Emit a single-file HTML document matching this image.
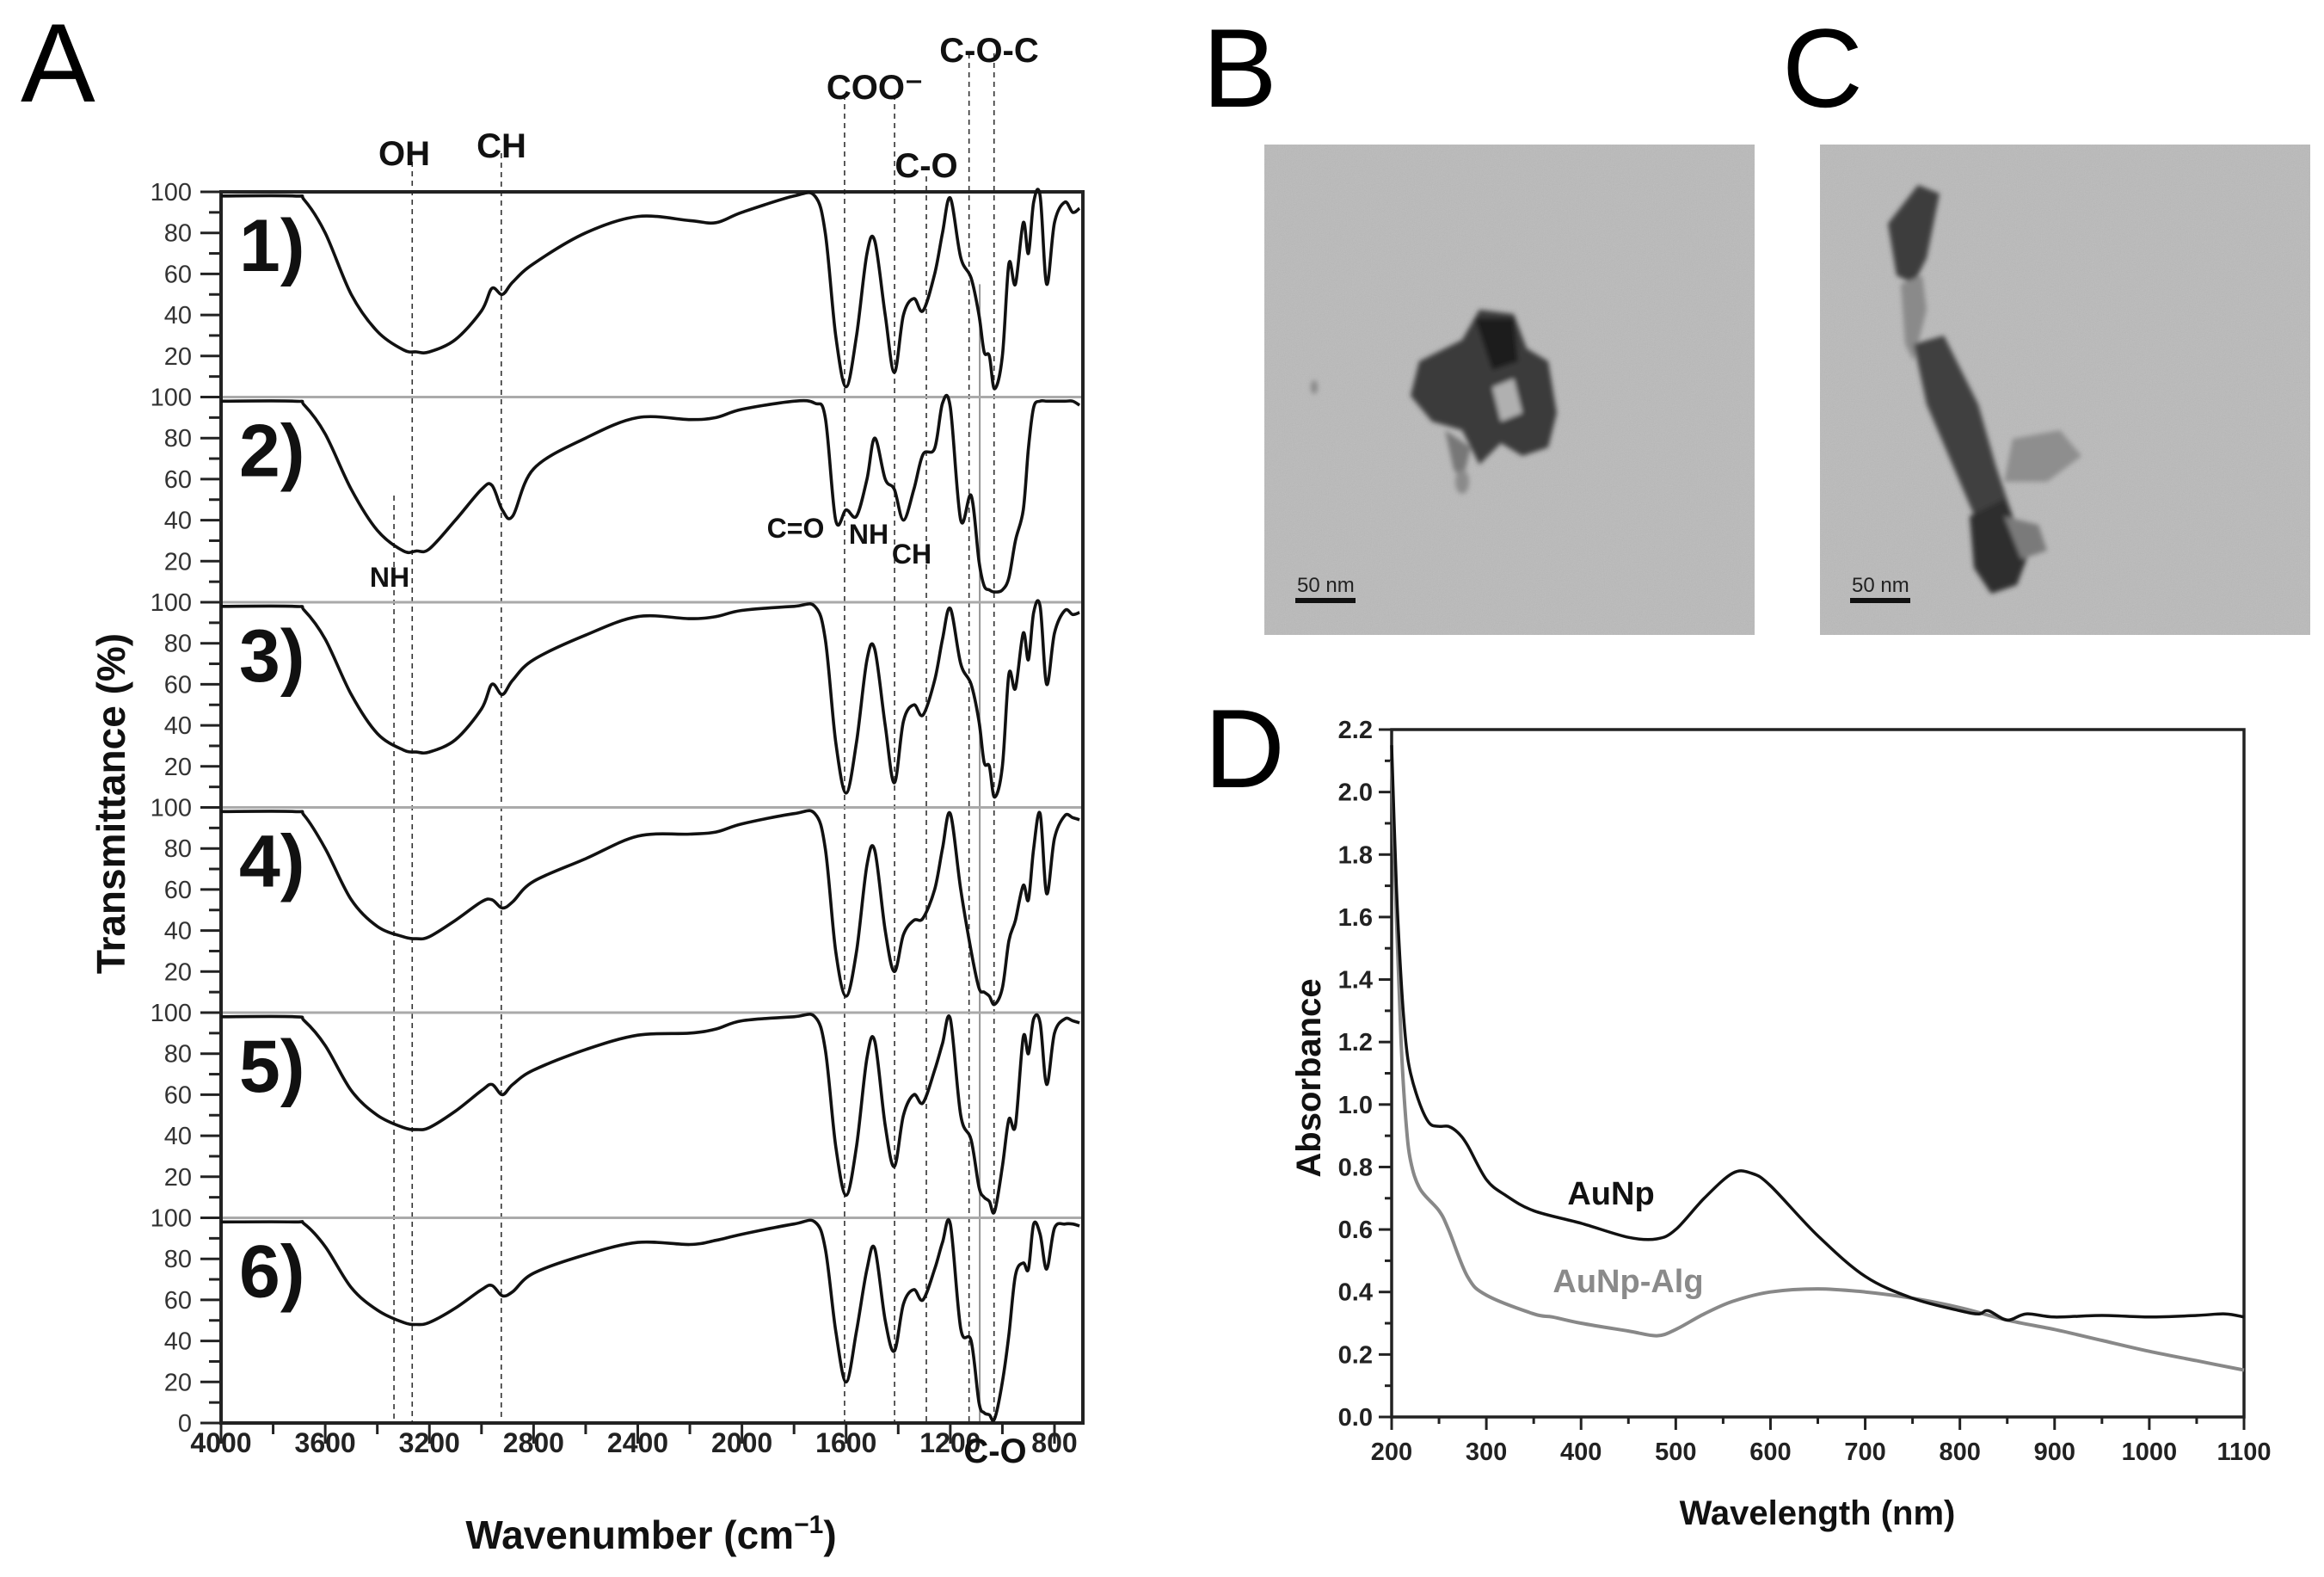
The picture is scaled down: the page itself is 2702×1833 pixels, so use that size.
<!DOCTYPE html>
<html><head><meta charset="utf-8">
<style>
html,body{margin:0;padding:0;background:#fff;}
svg{display:block;}
text{font-family:"Liberation Sans",sans-serif;}
</style></head>
<body>
<svg id="fig" width="2702" height="1833" viewBox="0 0 2702 1833" xmlns="http://www.w3.org/2000/svg">
  <defs>
    <filter id="grain" x="0" y="0" width="100%" height="100%">
      <feTurbulence type="fractalNoise" baseFrequency="0.9" numOctaves="2" seed="3" result="n"/>
      <feColorMatrix type="saturate" values="0"/>
      <feComponentTransfer><feFuncA type="linear" slope="0.18"/></feComponentTransfer>
      <feComposite in2="SourceGraphic" operator="in"/>
    </filter>
    <filter id="blur3"><feGaussianBlur stdDeviation="3"/></filter>
  </defs>

  <!-- Panel letters -->
  <text x="24" y="118" font-size="130">A</text>
  <text x="1398" y="124" font-size="130">B</text>
  <text x="2072" y="124" font-size="130">C</text>
  <text x="1400" y="915" font-size="130">D</text>

  <!-- TEM image B -->
  <g>
    <rect x="1470" y="168" width="570" height="570" fill="#bababa"/>
    <rect x="1470" y="168" width="570" height="570" fill="#888" filter="url(#grain)"/>
    <g filter="url(#blur3)">
      <path d="M1650 420 L1700 395 L1720 360 L1760 365 L1775 405 L1800 420 L1810 480 L1800 520 L1770 530 L1745 515 L1720 540 L1700 500 L1665 490 L1640 460 Z" fill="#3a3a3a"/>
      <path d="M1715 370 L1760 370 L1765 420 L1735 430 Z" fill="#1e1e1e"/>
      <path d="M1735 450 L1760 440 L1770 480 L1745 490 Z" fill="#b0b0b0"/>
      <path d="M1680 500 L1710 520 L1700 560 L1690 545 Z" fill="#777"/>
      <ellipse cx="1700" cy="560" rx="8" ry="14" fill="#8a8a8a"/>
      <ellipse cx="1528" cy="450" rx="4" ry="8" fill="#888"/>
    </g>
    <text x="1508" y="688" font-family="Liberation Mono, monospace" font-size="24" fill="#222">50 nm</text>
    <rect x="1506" y="695" width="70" height="6" fill="#111"/>
  </g>

  <!-- TEM image C -->
  <g>
    <rect x="2116" y="168" width="570" height="570" fill="#bababa"/>
    <rect x="2116" y="168" width="570" height="570" fill="#888" filter="url(#grain)"/>
    <g filter="url(#blur3)">
      <path d="M2195 260 L2230 215 L2255 225 L2240 300 L2225 330 L2205 320 Z" fill="#3c3c3c"/>
      <path d="M2210 330 L2235 320 L2240 360 L2225 420 L2215 400 Z" fill="#8a8a8a"/>
      <path d="M2225 400 L2260 390 L2300 470 L2320 540 L2340 600 L2330 640 L2300 610 L2270 540 L2240 470 Z" fill="#404040"/>
      <path d="M2340 510 L2395 500 L2420 530 L2380 560 L2330 560 Z" fill="#8e8e8e"/>
      <path d="M2290 600 L2330 580 L2360 640 L2345 680 L2315 690 L2295 660 Z" fill="#2e2e2e"/>
      <path d="M2330 600 L2370 610 L2380 640 L2350 650 Z" fill="#7a7a7a"/>
    </g>
    <text x="2153" y="688" font-family="Liberation Mono, monospace" font-size="24" fill="#222">50 nm</text>
    <rect x="2151" y="695" width="70" height="6" fill="#111"/>
  </g>

  <g id="ftir"></g>
  <g id="uv"></g>
</svg>

<script>
// ---------------- FTIR data (panel A) ----------------
const ftirWavenumbers = [4000,3720,3680,3600,3500,3400,3300,3250,3200,3100,3000,2960,2920,2880,2800,2600,2400,2200,2100,2000,1800,1720,1680,1640,1600,1560,1520,1490,1450,1415,1380,1340,1305,1260,1230,1200,1160,1120,1090,1070,1050,1030,1000,975,950,920,900,880,855,830,800,760,730,704];
const ftirSample1 = [98,98,96,80,50,32,23,22,22,28,42,53,50,56,65,80,88,86,85,90,98,98,80,30,5,30,70,76,40,12,40,48,42,60,80,97,68,58,40,22,20,4,20,65,55,85,70,95,98,55,85,95,90,92];
const ftirSample2 = [98,98,96,82,55,35,25,25,26,40,55,57,45,42,65,80,90,89,90,94,98,97,90,40,45,42,60,80,60,55,40,55,72,75,97,95,40,52,20,8,6,5,6,12,30,45,75,95,98,98,98,98,98,96];
const ftirSample3 = [98,98,96,82,55,36,28,27,27,33,48,60,55,62,72,84,93,92,93,96,98,98,82,32,7,32,72,77,40,12,42,50,45,62,82,97,70,60,42,22,20,5,20,65,58,85,72,95,98,60,85,96,94,95];
const ftirSample4 = [98,98,96,80,55,42,37,36,37,45,54,55,51,54,64,75,86,87,88,92,97,97,80,30,8,30,72,79,40,20,38,45,46,60,80,97,60,30,12,10,8,4,12,35,45,62,55,80,97,58,85,96,95,94];
const ftirSample5 = [98,98,96,84,62,50,44,43,44,52,62,65,60,65,72,82,89,90,92,96,98,98,82,35,11,35,78,86,45,25,50,60,56,72,85,97,50,38,15,10,8,3,25,48,45,88,80,97,95,65,90,97,96,95];
const ftirSample6 = [98,98,97,86,66,55,49,48,49,56,65,67,62,64,73,82,88,87,89,92,97,98,85,45,20,45,75,85,50,35,58,65,60,75,88,97,46,40,10,5,4,2,20,43,72,78,75,97,92,75,95,97,97,96];
const ftirPanelLabels = ["1)","2)","3)","4)","5)","6)"];
const ftirXTicks = [4000,3600,3200,2800,2400,2000,1600,1200,800];
const ftirYTicks = [0,20,40,60,80,100];
const ftirBandLines = [3336,3266,2924,1606,1414,1292,1128,1032];

// ---------------- UV-Vis data (panel D) ----------------
const uvAuNpWavelength = [200,205,210,215,220,230,240,250,260,270,280,300,320,350,400,450,480,500,530,560,580,600,650,700,750,800,820,830,850,870,900,950,1000,1050,1080,1100];
const uvAuNpAbsorbance = [2.15,1.7,1.4,1.2,1.1,1.0,0.94,0.93,0.93,0.91,0.87,0.76,0.71,0.66,0.62,0.575,0.57,0.6,0.7,0.78,0.78,0.74,0.58,0.45,0.38,0.34,0.33,0.34,0.31,0.33,0.32,0.325,0.32,0.325,0.33,0.32];
const uvAlgWavelength = [200,205,210,215,220,230,250,260,280,300,350,370,400,450,480,500,530,560,600,650,700,750,800,850,900,950,1000,1050,1100];
const uvAlgAbsorbance = [2.1,1.6,1.2,0.95,0.82,0.73,0.66,0.6,0.45,0.39,0.33,0.32,0.3,0.275,0.26,0.28,0.33,0.37,0.4,0.41,0.4,0.38,0.35,0.31,0.28,0.245,0.21,0.18,0.15];
const uvXTicks = [200,300,400,500,600,700,800,900,1000,1100];
const uvYTicks = [0.0,0.2,0.4,0.6,0.8,1.0,1.2,1.4,1.6,1.8,2.0,2.2];

const NS = "http://www.w3.org/2000/svg";
function mk(tag, attrs, parent){const e=document.createElementNS(NS,tag);for(const k in attrs)e.setAttribute(k,attrs[k]);parent.appendChild(e);return e;}
function smoothPath(pts){
  let d="M"+pts[0][0].toFixed(1)+" "+pts[0][1].toFixed(1);
  for(let i=0;i<pts.length-1;i++){
    const p0=pts[i-1]||pts[i],p1=pts[i],p2=pts[i+1],p3=pts[i+2]||p2;
    const c1=[p1[0]+(p2[0]-p0[0])/6,p1[1]+(p2[1]-p0[1])/6];
    const c2=[p2[0]-(p3[0]-p1[0])/6,p2[1]-(p3[1]-p1[1])/6];
    d+=" C"+c1[0].toFixed(1)+" "+c1[1].toFixed(1)+" "+c2[0].toFixed(1)+" "+c2[1].toFixed(1)+" "+p2[0].toFixed(1)+" "+p2[1].toFixed(1);
  }
  return d;
}

// ---------- FTIR ----------
(function(){
  const g=document.getElementById('ftir');
  const L=257,R=1259,T=223,B=1654,wMax=4000,wMin=691;
  const pH=(B-T)/6;
  const xs=w=>L+(wMax-w)/(wMax-wMin)*(R-L);
  const ys=(i,v)=>T+pH*i+(100-v)/100*pH;
  const series=[ftirSample1,ftirSample2,ftirSample3,ftirSample4,ftirSample5,ftirSample6];

  const bandTop=[188,188,178,110,110,205,62,62];
  ftirBandLines.forEach((w,k)=>{
    let y0=bandTop[k];
    if(k===0) y0=ys(1,52);
    const ln=mk('line',{x1:xs(w),x2:xs(w),y1:y0,y2:B,stroke:'#333','stroke-width':1.6,'stroke-dasharray':'6 5'},g);
    
    
  });
  const solid=mk('line',{x1:xs(1087),x2:xs(1087),y1:ys(0,55),y2:B,stroke:'#777','stroke-width':1.5},g);
  
  

  for(let i=1;i<6;i++){
    const s=mk('line',{x1:L-20,x2:R,y1:T+pH*i,y2:T+pH*i,stroke:'#aaa','stroke-width':3},g);
    
    
  }
  const fr=mk('path',{d:`M${L} ${T} H${R} V${B} H${L} Z`,fill:'none',stroke:'#222','stroke-width':4},g);
  
  

  for(let i=0;i<6;i++){
    for(let v=0;v<=100;v+=10){
      if(i<5 && v===0) continue;
      const y=ys(i,v);
      const major=v%20===0;
      mk('line',{x1:L-(major?24:14),x2:L,y1:y,y2:y,stroke:'#222','stroke-width':3},g);
      if(major){
        const t=mk('text',{x:L-34,y:y+10,'font-size':29,'text-anchor':'end',fill:'#333'},g);
        t.textContent=v;
        
        
      }
    }
    const pl=mk('text',{x:278,y:T+pH*i+92,'font-size':86,'font-weight':'bold',fill:'#111'},g);
    pl.textContent=ftirPanelLabels[i];
    
    
  }
  for(let w=4000;w>=800;w-=200){
    const x=xs(w),major=w%400===0;
    mk('line',{x1:x,x2:x,y1:B,y2:B+(major?24:13),stroke:'#222','stroke-width':3},g);
  }
  ftirXTicks.forEach(w=>{
    const t=mk('text',{x:xs(w),y:1688,'font-size':32,'font-weight':'bold','text-anchor':'middle',fill:'#222'},g);
    t.textContent=w;
    
    
  });

  series.forEach((s,i)=>{
    const pts=ftirWavenumbers.map((w,k)=>[xs(w),ys(i,s[k])]);
    const p=mk('path',{d:smoothPath(pts),fill:'none',stroke:'#111','stroke-width':3.6,'stroke-linejoin':'round'},g);
    
    
  });

  const labs=[["OH",470,192,40],["CH",583,183,40],["COO\u207B",1017,115,40],["C-O-C",1150,72,40],["C-O",1077,206,40],
              ["C=O",925,625,32],["NH",1010,632,32],["CH",1060,655,32],["NH",453,682,32],["C-O",1157,1700,40]];
  labs.forEach(a=>{
    const t=mk('text',{x:a[1],y:a[2],'font-size':a[3],'font-weight':'bold','text-anchor':'middle',fill:'#111'},g);
    t.textContent=a[0];
    
    
  });
  const xt=mk('text',{x:757,y:1800,'font-size':46,'font-weight':'bold','text-anchor':'middle',fill:'#111'},g);
  xt.innerHTML='Wavenumber (cm<tspan dy="-18" font-size="30">\u22121</tspan><tspan dy="18">)</tspan>';
  
  
  const yt=mk('text',{x:0,y:0,'font-size':46,'font-weight':'bold','text-anchor':'middle',fill:'#111',transform:'translate(145,934) rotate(-90)'},g);
  yt.textContent='Transmittance (%)';
  
  
})();

// ---------- UV-Vis ----------
(function(){
  const g=document.getElementById('uv');
  const L=1618,R=2609,T=848,B=1647;
  const xs=w=>L+(w-200)/900*(R-L);
  const ys=a=>B-a/2.2*(B-T);
  const fr=mk('path',{d:`M${L} ${T} H${R} V${B} H${L} Z`,fill:'none',stroke:'#222','stroke-width':3.5},g);
  
  
  for(let k=0;k<=22;k++){
    const y=ys(k/10),major=k%2===0;
    mk('line',{x1:L-(major?15:8),x2:L,y1:y,y2:y,stroke:'#222','stroke-width':3},g);
  }
  uvYTicks.forEach(v=>{
    const t=mk('text',{x:L-22,y:ys(v)+10,'font-size':29,'font-weight':'bold','text-anchor':'end',fill:'#222'},g);
    t.textContent=v.toFixed(1);
    
    
  });
  for(let w=200;w<=1100;w+=50){
    const x=xs(w),major=w%100===0;
    mk('line',{x1:x,x2:x,y1:B,y2:B+(major?15:8),stroke:'#222','stroke-width':3},g);
  }
  uvXTicks.forEach(w=>{
    const t=mk('text',{x:xs(w),y:1697,'font-size':29,'font-weight':'bold','text-anchor':'middle',fill:'#222'},g);
    t.textContent=w;
    
    
  });
  const alg=mk('path',{d:smoothPath(uvAlgWavelength.map((w,k)=>[xs(w),ys(uvAlgAbsorbance[k])])),fill:'none',stroke:'#888','stroke-width':4},g);
  
  
  const au=mk('path',{d:smoothPath(uvAuNpWavelength.map((w,k)=>[xs(w),ys(uvAuNpAbsorbance[k])])),fill:'none',stroke:'#111','stroke-width':3.5},g);
  
  
  const l1=mk('text',{x:1873,y:1400,'font-size':38,'font-weight':'bold','text-anchor':'middle',fill:'#111'},g);
  l1.textContent='AuNp';
  
  
  const l2=mk('text',{x:1893,y:1502,'font-size':38,'font-weight':'bold','text-anchor':'middle',fill:'#8a8a8a'},g);
  l2.textContent='AuNp-Alg';
  
  
  const xt=mk('text',{x:2113,y:1772,'font-size':40,'font-weight':'bold','text-anchor':'middle',fill:'#111'},g);
  xt.textContent='Wavelength (nm)';
  
  
  const yt=mk('text',{x:0,y:0,'font-size':40,'font-weight':'bold','text-anchor':'middle',fill:'#111',transform:'translate(1535,1253) rotate(-90)'},g);
  yt.textContent='Absorbance';
  
  
})();
</script>
</body></html>
